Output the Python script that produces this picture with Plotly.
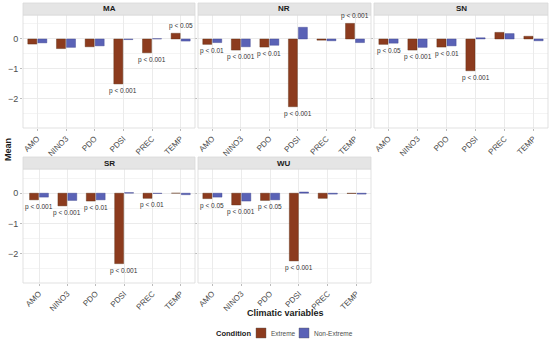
import plotly.graph_objects as go

variables = ["AMO", "NINO3", "PDO", "PDSI", "PREC", "TEMP"]
regions = ["MA", "NR", "SN", "SR", "WU"]

extreme = {
    "MA": [-0.17, -0.32, -0.26, -1.50, -0.46, 0.19],
    "NR": [-0.18, -0.37, -0.27, -2.26, -0.04, 0.52],
    "SN": [-0.18, -0.37, -0.27, -1.06, 0.22, 0.09],
    "SR": [-0.22, -0.42, -0.26, -2.33, -0.17, 0.00],
    "WU": [-0.18, -0.39, -0.24, -2.24, -0.17, -0.01],
}
non_extreme = {
    "MA": [-0.13, -0.28, -0.23, -0.02, 0.01, -0.07],
    "NR": [-0.12, -0.26, -0.21, 0.39, -0.06, -0.12],
    "SN": [-0.14, -0.28, -0.23, 0.04, 0.18, -0.06],
    "SR": [-0.13, -0.24, -0.22, 0.02, -0.01, -0.05],
    "WU": [-0.13, -0.26, -0.22, 0.04, -0.03, -0.03],
}
pvalues = {
    "MA": {"PDSI": "p < 0.001", "PREC": "p < 0.001", "TEMP": "p < 0.05"},
    "NR": {"AMO": "p < 0.01", "NINO3": "p < 0.001", "PDO": "p < 0.01",
           "PDSI": "p < 0.001", "TEMP": "p < 0.001"},
    "SN": {"AMO": "p < 0.05", "NINO3": "p < 0.001", "PDO": "p < 0.01",
           "PDSI": "p < 0.001"},
    "SR": {"AMO": "p < 0.001", "NINO3": "p < 0.001", "PDO": "p < 0.01",
           "PDSI": "p < 0.001", "PREC": "p < 0.01"},
    "WU": {"AMO": "p < 0.05", "NINO3": "p < 0.001", "PDO": "p < 0.05",
           "PDSI": "p < 0.001"},
}
conditions = ["Extreme", "Non-Extreme"]

W, H = 550, 341
EXT_COLOR = "#8C3B1E"
NON_COLOR = "#5A62B6"
GRID = "#EBEBEB"
TXT = "#4D4D4D"
FONT = "Liberation Sans, Arial"

# panel pixel boxes
cols = [(23, 195), (198, 371), (374, 548)]
rows = [(3, 15, 128), (157, 169, 283)]
layout_pos = {"MA": (0, 0), "NR": (0, 1), "SN": (0, 2), "SR": (1, 0), "WU": (1, 1)}

fig = go.Figure()
shapes = []
annotations = []

for i, reg in enumerate(regions):
    r, c = layout_pos[reg]
    x0, x1 = cols[c]
    st, pt, pb = rows[r]
    n = i + 1
    xa = "x" if n == 1 else f"x{n}"
    ya = "y" if n == 1 else f"y{n}"
    fig.add_trace(go.Bar(x=variables, y=extreme[reg], name=conditions[0],
                         marker=dict(color=EXT_COLOR, line=dict(color="#5a2a10", width=0.4)),
                         xaxis=xa, yaxis=ya, showlegend=False, offsetgroup="e"))
    fig.add_trace(go.Bar(x=variables, y=non_extreme[reg], name=conditions[1],
                         marker=dict(color=NON_COLOR, line=dict(color="#3a408a", width=0.4)),
                         xaxis=xa, yaxis=ya, showlegend=False, offsetgroup="n"))
    xkey = "xaxis" if n == 1 else f"xaxis{n}"
    ykey = "yaxis" if n == 1 else f"yaxis{n}"
    fig.update_layout(**{
        xkey: dict(domain=[x0 / W, x1 / W], anchor=ya, type="category",
                   categoryorder="array", categoryarray=variables,
                   showgrid=True, gridcolor=GRID, gridwidth=0.8,
                   tickangle=-45, tickfont=dict(size=8, color=TXT, family=FONT),
                   showline=False, zeroline=False, ticks="outside", ticklen=2,
                   tickcolor="#BBBBBB", fixedrange=True),
        ykey: dict(domain=[1 - pb / H, 1 - pt / H], anchor=xa,
                   range=[-2.97, 0.8], tickvals=[0, -1, -2],
                   ticktext=["0", "\u22121", "\u22122"],
                   showticklabels=(c == 0), showgrid=True, gridcolor=GRID,
                   gridwidth=0.8, zeroline=False,
                   minor=dict(tickvals=[0.5, -0.5, -1.5, -2.5], showgrid=True,
                              gridcolor="#F4F4F4", gridwidth=0.5),
                   tickfont=dict(size=9, color=TXT, family=FONT),
                   ticks="outside", ticklen=2, tickcolor="#BBBBBB", fixedrange=True),
    })
    shapes.append(dict(type="rect", xref="paper", yref="paper",
                       x0=x0 / W, x1=x1 / W, y0=1 - pb / H, y1=1 - pt / H,
                       line=dict(color="#D9D9D9", width=0.8), fillcolor="rgba(0,0,0,0)",
                       layer="above"))
    shapes.append(dict(type="rect", xref="paper", yref="paper",
                       x0=x0 / W, x1=x1 / W, y0=1 - pt / H, y1=1 - st / H,
                       line=dict(color="#D9D9D9", width=0.8), fillcolor="#E5E5E5"))
    annotations.append(dict(text=f"<b>{reg}</b>", xref="paper", yref="paper",
                            x=(x0 + x1) / 2 / W, y=1 - (st + pt) / 2 / H,
                            showarrow=False, xanchor="center", yanchor="middle",
                            font=dict(size=8, color="#1A1A1A", family=FONT)))
    for var, label in pvalues[reg].items():
        v = extreme[reg][variables.index(var)]
        annotations.append(dict(text=label, xref=xa, yref=ya, x=var, y=v,
                                showarrow=False, xanchor="center",
                                yanchor="top" if v < 0 else "bottom",
                                yshift=-1 if v < 0 else 1,
                                font=dict(size=6.5, color="#333333", family=FONT)))

annotations.append(dict(text="<b>Mean</b>", xref="paper", yref="paper",
                        x=8 / W, y=1 - 150 / H, textangle=-90, showarrow=False,
                        xanchor="center", yanchor="middle",
                        font=dict(size=9, color="#1A1A1A", family=FONT)))
annotations.append(dict(text="<b>Climatic variables</b>", xref="paper", yref="paper",
                        x=285 / W, y=1 - 313 / H, showarrow=False,
                        xanchor="center", yanchor="middle",
                        font=dict(size=9, color="#1A1A1A", family=FONT)))

# manual legend
ly = 1 - 333 / H
annotations.append(dict(text="<b>Condition</b>", xref="paper", yref="paper",
                        x=214 / W, y=ly, showarrow=False, xanchor="left",
                        yanchor="middle", font=dict(size=7.5, color="#1A1A1A", family=FONT)))
for (sx, tx, col, name) in [(256, 269, EXT_COLOR, conditions[0]),
                            (299, 312, NON_COLOR, conditions[1])]:
    shapes.append(dict(type="rect", xref="paper", yref="paper",
                       x0=sx / W, x1=(sx + 10) / W, y0=1 - 338 / H, y1=1 - 328 / H,
                       fillcolor=col, line=dict(color="#555555", width=0.4)))
    annotations.append(dict(text=name, xref="paper", yref="paper", x=tx / W, y=ly,
                            showarrow=False, xanchor="left", yanchor="middle",
                            font=dict(size=6.5, color=TXT, family=FONT)))

fig.update_layout(
    width=W, height=H,
    margin=dict(l=0, r=0, t=0, b=0),
    paper_bgcolor="white", plot_bgcolor="white",
    barmode="group", bargap=0.3, bargroupgap=0.1,
    shapes=shapes, annotations=annotations,
    showlegend=False,
    font=dict(family=FONT),
)

fig.write_html("out.html", config={"displayModeBar": False},
               post_script="document.body.style.margin='0';")
